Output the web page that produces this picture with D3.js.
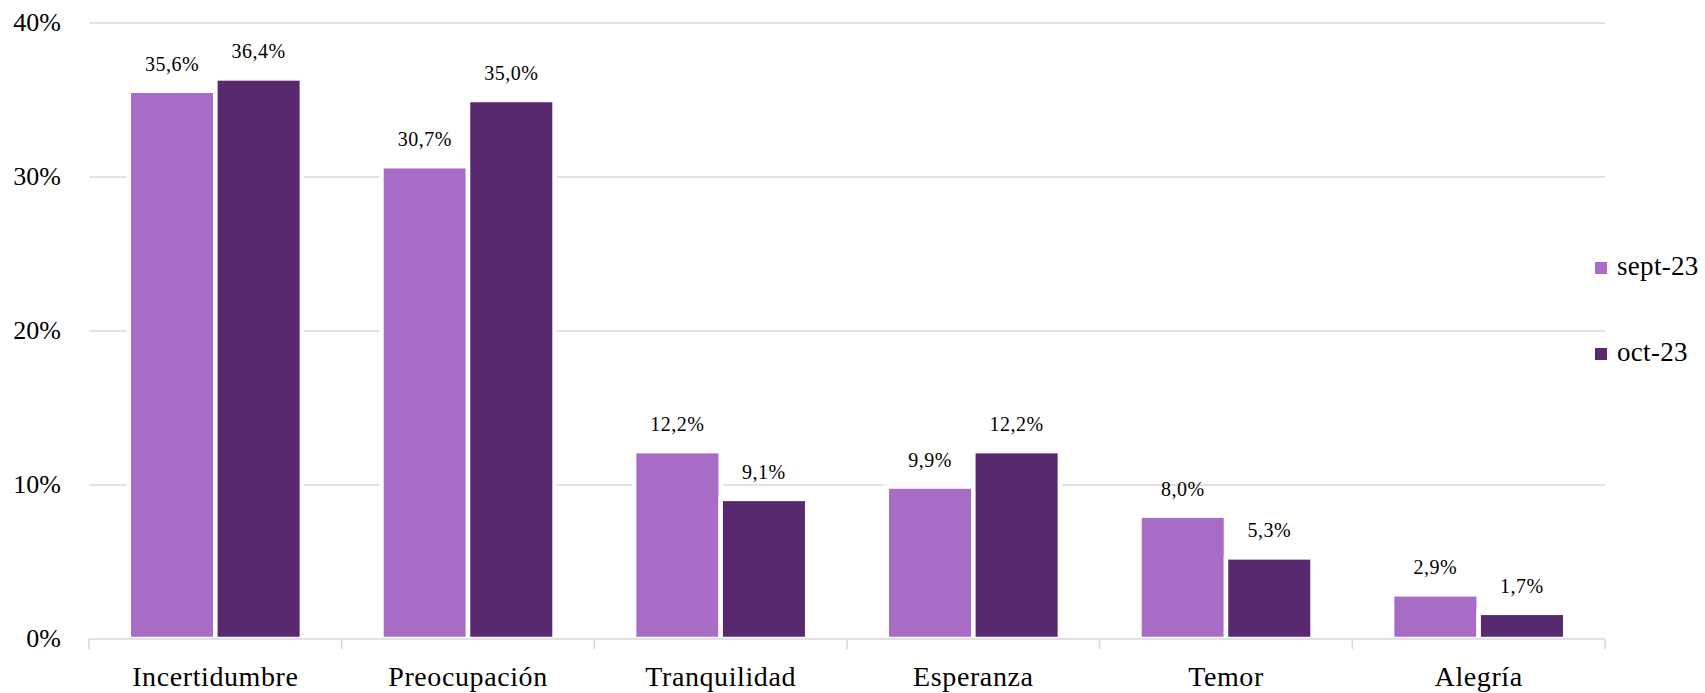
<!DOCTYPE html>
<html><head><meta charset="utf-8">
<script src="https://cdn.jsdelivr.net/npm/d3@7"></script>
<style>
html,body{margin:0;padding:0;background:#fff;}
svg{display:block;}
svg text{font-family:"Liberation Serif","DejaVu Serif",serif;}
</style></head>
<body>
<svg id="chart" width="1705" height="693"></svg>
<script>
const categories = ["Incertidumbre","Preocupación","Tranquilidad","Esperanza","Temor","Alegría"];
const seriesNames = ["sept-23","oct-23"];
const sept23 = [35.6, 30.7, 12.2, 9.9, 8.0, 2.9];
const oct23 = [36.4, 35.0, 9.1, 12.2, 5.3, 1.7];
const yTicks = [0, 10, 20, 30, 40];
const colors = ["#A86BC6", "#58296E"];

(function () {
const seriesValues = [sept23, oct23];
const data = categories.map((c, i) => ({cat: c, vals: seriesNames.map((s, j) => ({s, j, v: seriesValues[j][i]}))}));

const svg = d3.select("#chart").attr("font-family", "'Liberation Serif', 'DejaVu Serif', serif");
const mLeft = 89, mRight = 1605, mTop = 23, mBottom = 639;

const x0 = d3.scaleBand().domain(categories).range([mLeft, mRight]).paddingInner(0.315).paddingOuter(0.1575);
const x1 = d3.scaleBand().domain(seriesNames).range([0, x0.bandwidth()]).padding(0);
const y = d3.scaleLinear().domain([0, 40]).range([mBottom, mTop]);

// gridlines
svg.append("g").selectAll("line").data(yTicks.filter(t => t > 0)).join("line")
  .attr("x1", mLeft).attr("x2", mRight)
  .attr("y1", d => y(d)).attr("y2", d => y(d))
  .attr("stroke", "#d9d9d9").attr("stroke-width", 1.5);

// y tick labels
svg.append("g").selectAll("text").data(yTicks).join("text")
  .attr("x", 61).attr("y", d => y(d) + 8)
  .attr("text-anchor", "end").attr("font-size", 26).attr("fill", "#000")
  .text(d => d + "%");

// bars
const groups = svg.append("g").selectAll("g").data(data).join("g")
  .attr("transform", d => `translate(${x0(d.cat)},0)`);
groups.selectAll("rect").data(d => d.vals).join("rect")
  .attr("x", d => x1(d.s)).attr("width", x1.bandwidth())
  .attr("y", d => y(d.v)).attr("height", d => y(0) - y(d.v))
  .attr("fill", d => colors[d.j]).attr("stroke", "#fff").attr("stroke-width", 4.5);

// data labels
groups.selectAll("text").data(d => d.vals).join("text")
  .attr("x", d => x1(d.s) + x1.bandwidth() / 2).attr("y", d => y(d.v) - 20)
  .attr("text-anchor", "middle").attr("font-size", 20).attr("letter-spacing", 0.5).attr("fill", "#000")
  .text(d => d3.format(".1f")(d.v).replace(".", ",") + "%");

// x axis
const ax = svg.append("g").attr("transform", `translate(0,${mBottom})`);
ax.append("line").attr("x1", mLeft).attr("x2", mRight).attr("stroke", "#d9d9d9").attr("stroke-width", 1.5);
const boundaries = categories.map(c => x0(c) - x0.step() * x0.paddingInner() / 2).concat([mRight]);
ax.selectAll("line.tick").data(boundaries).join("line").attr("class", "tick")
  .attr("x1", d => d).attr("x2", d => d).attr("y1", 0).attr("y2", 10)
  .attr("stroke", "#d9d9d9").attr("stroke-width", 1.5);
ax.selectAll("text").data(categories).join("text")
  .attr("x", d => x0(d) + x0.bandwidth() / 2).attr("y", 47)
  .attr("text-anchor", "middle").attr("font-size", 28).attr("letter-spacing", 0.6).attr("fill", "#000")
  .text(d => d);

// legend
const legendY = [268, 354];
const lg = svg.append("g").selectAll("g").data(seriesNames).join("g")
  .attr("transform", (d, i) => `translate(1595,${legendY[i]})`);
lg.append("rect").attr("x", 0).attr("y", -6).attr("width", 12).attr("height", 12).attr("fill", (d, i) => colors[i]);
lg.append("text").attr("x", 22).attr("y", 7).attr("font-size", 27).attr("letter-spacing", 0.3).attr("fill", "#000").text(d => d);
})();
</script>
</body></html>
